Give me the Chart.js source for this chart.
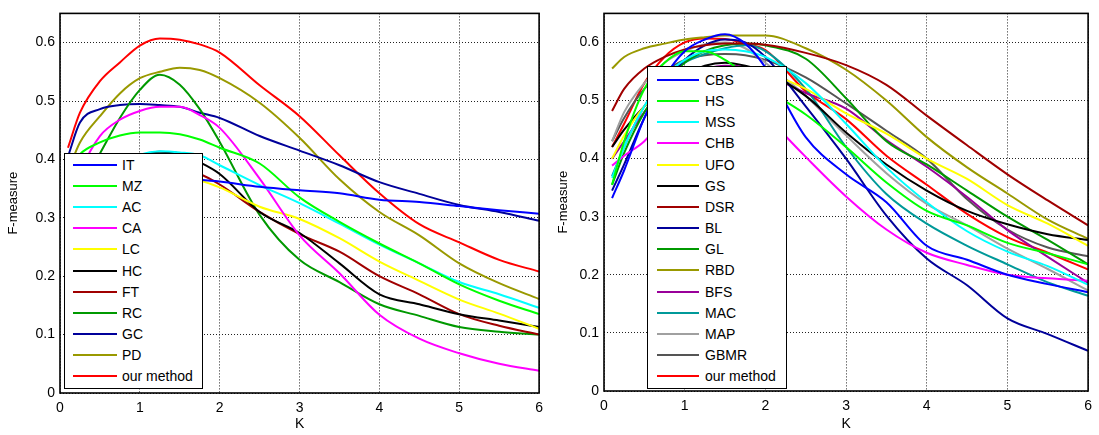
<!DOCTYPE html>
<html>
<head>
<meta charset="utf-8">
<script src="https://cdn.jsdelivr.net/npm/chart.js@4.4.1/dist/chart.umd.min.js"></script>
<style>
  body { margin: 0; background: #fff; width: 1099px; height: 435px; overflow: hidden; position: relative; font-family: "Liberation Sans", Arial, sans-serif; }
  .box { position: absolute; }
  .legend { position: absolute; background: #fff; border: 1.5px solid #000; box-sizing: border-box; }
  .row { position: absolute; left: 0; height: 20px; font-size: 14px; line-height: 20px; color: #000; white-space: nowrap; }
  .row i { position: absolute; top: 9px; height: 2px; }
  .row span { position: absolute; }
</style>
</head>
<body>
<div class="box" style="left:0;top:0;width:550px;height:435px"><canvas id="izq" width="550" height="435"></canvas></div>
<div class="box" style="left:550px;top:0;width:549px;height:435px"><canvas id="der" width="549" height="435"></canvas></div>
<div id="legIzq" class="legend" style="left:64px;top:153px;width:139px;height:236px"></div>
<div id="legDer" class="legend" style="left:647px;top:66px;width:140px;height:323px"></div>
<script>
// valores de K (eje x)
const kValores = [0.1, 0.25, 0.5, 0.75, 1, 1.25, 1.5, 1.75, 2, 2.5, 3, 3.5, 4, 4.5, 5, 5.5, 6];
const ticksY = [0, 0.1, 0.2, 0.3, 0.4, 0.5, 0.6];
const ticksX = [0, 1, 2, 3, 4, 5, 6];

// Gráfica izquierda
const nombresIzq = ["IT", "MZ", "AC", "CA", "LC", "HC", "FT", "RC", "GC", "PD", "our method"];
const IT = [0.30, 0.33, 0.35, 0.36, 0.365, 0.367, 0.367, 0.365, 0.362, 0.353, 0.347, 0.342, 0.331, 0.327, 0.32, 0.313, 0.307];
const MZ = [0.38, 0.409, 0.429, 0.441, 0.446, 0.446, 0.443, 0.434, 0.42, 0.393, 0.335, 0.293, 0.256, 0.222, 0.186, 0.158, 0.135];
const AC = [0.30, 0.33, 0.36, 0.39, 0.408, 0.414, 0.412, 0.407, 0.39, 0.356, 0.325, 0.29, 0.254, 0.222, 0.19, 0.169, 0.146];
const CA = [0.33, 0.38, 0.44, 0.468, 0.483, 0.49, 0.49, 0.476, 0.454, 0.367, 0.27, 0.205, 0.134, 0.093, 0.068, 0.05, 0.038];
const LC = [0.30, 0.33, 0.35, 0.36, 0.37, 0.372, 0.37, 0.364, 0.352, 0.319, 0.298, 0.265, 0.225, 0.192, 0.16, 0.136, 0.11];
const HC = [0.28, 0.31, 0.35, 0.385, 0.405, 0.413, 0.41, 0.395, 0.375, 0.31, 0.274, 0.222, 0.169, 0.152, 0.135, 0.124, 0.113];
const FT = [0.30, 0.33, 0.355, 0.37, 0.38, 0.385, 0.383, 0.375, 0.357, 0.31, 0.272, 0.242, 0.2, 0.169, 0.135, 0.115, 0.1];
const RC = [0.30, 0.35, 0.41, 0.471, 0.519, 0.545, 0.528, 0.486, 0.43, 0.305, 0.228, 0.19, 0.152, 0.132, 0.113, 0.105, 0.1];
const GC = [0.405, 0.463, 0.486, 0.493, 0.495, 0.493, 0.49, 0.48, 0.471, 0.44, 0.415, 0.39, 0.361, 0.341, 0.322, 0.31, 0.295];
const PD = [0.38, 0.429, 0.474, 0.513, 0.539, 0.55, 0.557, 0.553, 0.539, 0.497, 0.437, 0.366, 0.31, 0.27, 0.222, 0.188, 0.161];
const nuestroIzq = [0.42, 0.48, 0.534, 0.566, 0.595, 0.607, 0.605, 0.597, 0.583, 0.527, 0.474, 0.407, 0.342, 0.289, 0.258, 0.228, 0.208];
const coloresIzq = ["#0000ff", "#00ff00", "#00ffff", "#ff00ff", "#ffff00", "#000000", "#a00000", "#009900", "#00009a", "#999900", "#ff0000"];

// Gráfica derecha
const nombresDer = ["CBS", "HS", "MSS", "CHB", "UFO", "GS", "DSR", "BL", "GL", "RBD", "BFS", "MAC", "MAP", "GBMR", "our method"];
const CBS = [0.332, 0.38, 0.47, 0.54, 0.585, 0.605, 0.614, 0.598, 0.557, 0.437, 0.373, 0.325, 0.25, 0.226, 0.2, 0.184, 0.17];
const HS = [0.355, 0.43, 0.52, 0.565, 0.585, 0.585, 0.57, 0.545, 0.52, 0.476, 0.42, 0.359, 0.31, 0.285, 0.255, 0.237, 0.218];
const MSS = [0.367, 0.42, 0.49, 0.54, 0.57, 0.585, 0.588, 0.585, 0.575, 0.53, 0.46, 0.385, 0.325, 0.275, 0.24, 0.215, 0.183];
const CHB = [0.388, 0.405, 0.43, 0.47, 0.5, 0.52, 0.525, 0.51, 0.475, 0.403, 0.335, 0.278, 0.238, 0.217, 0.2, 0.194, 0.19];
const UFO = [0.40, 0.44, 0.49, 0.52, 0.54, 0.553, 0.557, 0.555, 0.548, 0.52, 0.478, 0.443, 0.4, 0.365, 0.32, 0.288, 0.25];
const GS = [0.42, 0.45, 0.49, 0.52, 0.545, 0.56, 0.565, 0.56, 0.55, 0.508, 0.445, 0.39, 0.345, 0.31, 0.287, 0.27, 0.26];
const DSR = [0.482, 0.52, 0.555, 0.575, 0.588, 0.595, 0.598, 0.598, 0.596, 0.582, 0.561, 0.527, 0.474, 0.423, 0.373, 0.328, 0.285];
const BL = [0.345, 0.39, 0.47, 0.53, 0.57, 0.595, 0.605, 0.6, 0.575, 0.49, 0.4, 0.302, 0.228, 0.182, 0.125, 0.098, 0.069];
const GL = [0.355, 0.41, 0.48, 0.53, 0.565, 0.585, 0.595, 0.598, 0.595, 0.572, 0.504, 0.43, 0.39, 0.345, 0.3, 0.26, 0.218];
const RBD = [0.555, 0.575, 0.59, 0.598, 0.605, 0.609, 0.612, 0.612, 0.612, 0.59, 0.553, 0.5, 0.437, 0.385, 0.34, 0.295, 0.262];
const BFS = [0.40, 0.43, 0.48, 0.52, 0.545, 0.555, 0.56, 0.558, 0.545, 0.513, 0.486, 0.432, 0.386, 0.334, 0.277, 0.231, 0.186];
const MAC = [0.37, 0.42, 0.49, 0.535, 0.565, 0.58, 0.59, 0.595, 0.585, 0.52, 0.42, 0.339, 0.288, 0.25, 0.218, 0.187, 0.164];
const MAP = [0.43, 0.48, 0.53, 0.565, 0.585, 0.597, 0.6, 0.59, 0.565, 0.508, 0.44, 0.375, 0.322, 0.285, 0.245, 0.21, 0.173];
const GBMR = [0.43, 0.47, 0.52, 0.55, 0.57, 0.578, 0.58, 0.578, 0.57, 0.54, 0.495, 0.448, 0.4, 0.33, 0.278, 0.247, 0.232];
const nuestroDer = [0.42, 0.46, 0.53, 0.575, 0.6, 0.607, 0.606, 0.598, 0.587, 0.516, 0.468, 0.405, 0.355, 0.305, 0.265, 0.238, 0.209];
const coloresDer = ["#0000ff", "#00ff00", "#00ffff", "#ff00ff", "#ffff00", "#000000", "#a00000", "#00009a", "#009900", "#999900", "#990099", "#009999", "#a0a0a0", "#555555", "#ff0000"];

const seriesIzq = [IT, MZ, AC, CA, LC, HC, FT, RC, GC, PD, nuestroIzq];
const seriesDer = [CBS, HS, MSS, CHB, UFO, GS, DSR, BL, GL, RBD, BFS, MAC, MAP, GBMR, nuestroDer];

const fuente = "'Liberation Sans', Arial, sans-serif";

// marco negro alrededor del área
const marco = {
    id: "marco",
    afterDraw(chart) {
        const a = chart.chartArea;
        const ctx = chart.ctx;
        ctx.save();
        ctx.strokeStyle = "#000";
        ctx.lineWidth = 1.6;
        ctx.strokeRect(a.left, a.top, a.right - a.left, a.bottom - a.top);
        ctx.restore();
    }
};

const hacerGrafica = (id, nombres, series, colores, anchoY, altoX, padTop, padRight) => {
    return new Chart(document.getElementById(id), {
        type: "line",
        data: {
            datasets: series.map((s, i) => ({
                label: nombres[i],
                data: s.map((v, j) => ({ x: kValores[j], y: v })),
                borderColor: colores[i],
                backgroundColor: colores[i],
                borderWidth: 2,
                pointRadius: 0,
                cubicInterpolationMode: "monotone",
                fill: false
            }))
        },
        options: {
            responsive: false,
            animation: false,
            layout: { padding: { top: padTop, right: padRight, left: 0, bottom: 0 } },
            plugins: { legend: { display: false }, tooltip: { enabled: false } },
            scales: {
                x: {
                    type: "linear",
                    min: 0, max: 6,
                    afterBuildTicks: (s) => { s.ticks = ticksX.map(v => ({ value: v })); },
                    afterFit: (s) => { s.height = altoX; },
                    ticks: { color: "#000", font: { family: fuente, size: 14 }, padding: 7, maxRotation: 0 },
                    grid: { color: "#222", lineWidth: 1, drawTicks: false },
                    border: { display: false, dash: [1, 2] },
                    title: { display: true, text: "K", color: "#000", font: { family: fuente, size: 14 }, padding: { top: 0, bottom: 2 } }
                },
                y: {
                    type: "linear",
                    min: 0, max: 0.65,
                    afterBuildTicks: (s) => { s.ticks = ticksY.map(v => ({ value: v })); },
                    afterFit: (s) => { s.width = anchoY; },
                    ticks: { color: "#000", font: { family: fuente, size: 14 }, padding: 5, callback: (v) => String(v) },
                    grid: { color: "#222", lineWidth: 1, drawTicks: false },
                    border: { display: false, dash: [1, 2] },
                    title: { display: true, text: "F-measure", color: "#000", font: { family: fuente, size: 13 }, padding: { top: 6, bottom: 0 } }
                }
            }
        },
        plugins: [marco]
    });
};

const leyenda = (idCaja, chart, primera, paso, xLinea, anchoLinea, xTexto) => {
    const caja = document.getElementById(idCaja);
    chart.data.datasets.forEach((d, i) => {
        const fila = document.createElement("div");
        fila.className = "row";
        fila.style.top = Math.round(primera + i * paso - 10) + "px";
        fila.innerHTML = '<i style="left:' + xLinea + 'px;width:' + anchoLinea + 'px;background:' + d.borderColor + '"></i>' +
            '<span style="left:' + xTexto + 'px">' + d.label + '</span>';
        caja.appendChild(fila);
    });
};

const gIzq = hacerGrafica("izq", nombresIzq, seriesIzq, coloresIzq, 60, 42, 10, 5);
const gDer = hacerGrafica("der", nombresDer, seriesDer, coloresDer, 54, 44, 6, 6);
leyenda("legIzq", gIzq, 11, 21.1, 8, 44, 57);
leyenda("legDer", gDer, 13, 21.15, 9, 42, 57);
</script>
</body>
</html>
